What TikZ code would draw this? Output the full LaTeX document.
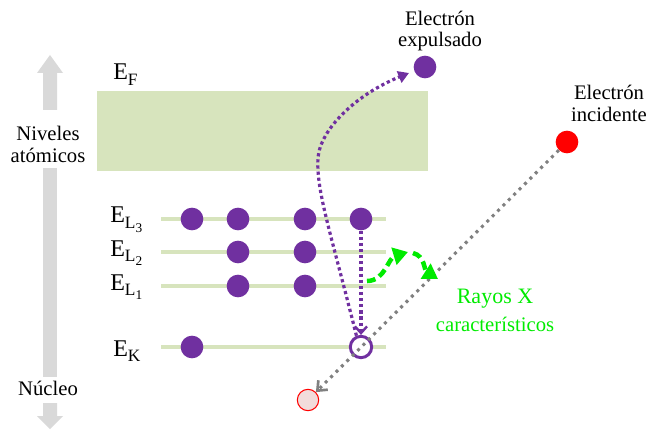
\documentclass[tikz,border=0pt]{standalone}
\usepackage{fontspec}
\setmainfont{Liberation Serif}
\newfontfamily\tnr{Liberation Serif}
\usetikzlibrary{arrows.meta}
\definecolor{lvl}{HTML}{D7E4BD}
\definecolor{elec}{HTML}{7030A0}
\definecolor{xg}{RGB}{0,235,0}
\definecolor{arrg}{HTML}{D9D9D9}
\definecolor{incred}{HTML}{FF0000}
\definecolor{pinkf}{HTML}{F2DCDB}
\definecolor{dotgray}{HTML}{808080}
\newcommand{\subA}[1]{\raisebox{-4pt}{\fontsize{13}{13}\selectfont #1}}
\newcommand{\subB}[1]{\raisebox{-3pt}{\fontsize{10}{10}\selectfont #1}}
\begin{document}
\begin{tikzpicture}[x=0.75pt,y=-0.75pt,
  el/.style={circle,fill=elec,inner sep=0pt,minimum size=17pt},
  hole/.style={circle,draw=elec,fill=white,line width=2.2pt,inner sep=0pt,minimum size=16pt},
  lvline/.style={draw=lvl,line width=2.4pt},
  pdot/.style={draw=elec,line width=2.4pt,dash pattern=on 2.4pt off 2.2pt},
  gdot/.style={draw=dotgray,line width=2.3pt,dash pattern=on 2.3pt off 3.4pt},
  gdash/.style={draw=xg,line width=3.4pt,dash pattern=on 6.5pt off 3.5pt},
  lbl/.style={font=\tnr\fontsize{15.5}{18}\selectfont,inner sep=0pt},
  elbl/.style={font=\tnr\fontsize{18}{20}\selectfont,inner sep=0pt,anchor=base west}]
\useasboundingbox (0,0) rectangle (646,431);
% side arrow
\fill[arrg] (43,110) -- (43,73) -- (37,73) -- (50,55) -- (63,73) -- (57,73) -- (57,110) -- cycle;
\fill[arrg] (43,168) rectangle (57,377);
\fill[arrg] (43,403) -- (43,416) -- (37,416) -- (50,429) -- (63,416) -- (57,416) -- (57,403) -- cycle;
\node[lbl] (niv1) at (48,133) {Niveles};
\node[lbl] (niv2) at (48,155) {atómicos};
\node[lbl] (nuc) at (48,388) {Núcleo};
% band
\fill[lvl] (97,91) rectangle (428,171);
\node[elbl] (ef) at (113,80) {E\subA{F}};
% levels
\draw[lvline] (161,219) -- (386,219);
\draw[lvline] (161,252) -- (386,252);
\draw[lvline] (161,286) -- (386,286);
\draw[lvline] (161,347) -- (386,347);
\node[elbl] (el3) at (110,223) {E\subA{L\subB{3}}};
\node[elbl] (el2) at (110,256) {E\subA{L\subB{2}}};
\node[elbl] (el1) at (110,290) {E\subA{L\subB{1}}};
\node[elbl] (ek) at (113,356) {E\subA{K}};
% electrons
\node[el] (a1) at (192,219) {};
\node[el] (a2) at (238,219) {};
\node[el] (a3) at (305,219) {};
\node[el] (a4) at (361,219) {};
\node[el] (b1) at (238,252) {};
\node[el] (b2) at (305,252) {};
\node[el] (c1) at (238,286) {};
\node[el] (c2) at (305,286) {};
\node[el] (k1) at (192,347) {};
\node[hole] (h) at (361,347) {};
% ejected electron
\node[el] (ej) at (425,67) {};
\node[lbl] (ejt1) at (440,18) {Electrón};
\node[lbl] (ejt2) at (440,42) {expulsado};
% incident electron
\node[circle,fill=incred,inner sep=0pt,minimum size=17pt] (inc) at (567,142) {};
\node[lbl] (inct1) at (609,92) {Electrón};
\node[lbl] (inct2) at (609,114) {incidente};
% scattered electron
\node[circle,draw=incred,fill=pinkf,line width=0.8pt,inner sep=0pt,minimum size=16pt] (sc) at (308,400) {};
% gray path
\draw[gdot,-{Straight Barb[length=6pt,width=10pt,line width=2pt]}] (inc) -- (sc);
% purple paths
\draw[pdot,-{Straight Barb[length=5pt,width=9pt,line width=1.8pt]}] (a4) -- (h);
\coordinate (ejtip) at (409,73);
\draw[pdot,-{Triangle[length=8pt,width=9pt]}] (h.112) .. controls (330,230) and (316,190) .. (318,158) .. controls (320,130) and (355,95) .. (ejtip);
% x-ray arrows
\coordinate (g0) at (367,281);
\coordinate (g1) at (408,252);
\coordinate (g2) at (413,253);
\coordinate (g3) at (438,279);
\draw[gdash,-{Triangle[length=11pt,width=13pt]}] (g0) .. controls (385,281) and (388,258) .. (g1);
\draw[gdash,-{Triangle[length=11pt,width=13pt]}] (g2) .. controls (425,256) and (424,270) .. (g3);
\node[lbl,text=xg,font=\tnr\fontsize{16.5}{18}\selectfont] (rx1) at (495,299) {Rayos X};
\node[lbl,text=xg] (rx2) at (495,324) {característicos};
\end{tikzpicture}
\end{document}
